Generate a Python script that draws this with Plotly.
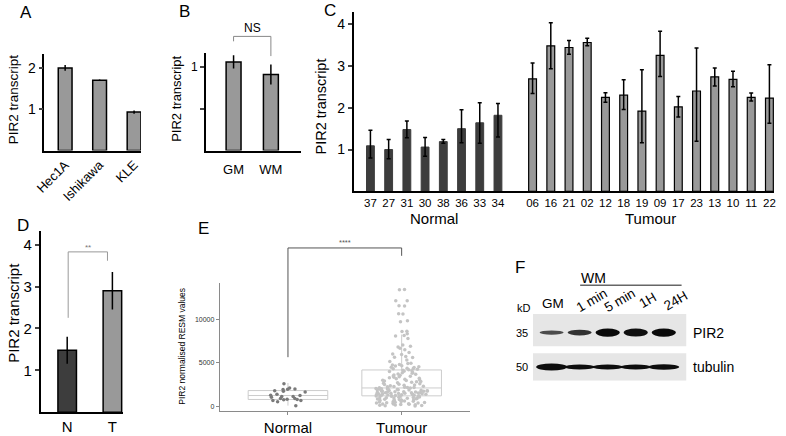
import plotly.graph_objects as go

W, H = 786, 436
FONT = "Liberation Sans, Arial, sans-serif"

# ---------------- data ----------------
a_lines = ["Hec1A", "Ishikawa", "KLE"]
a_values = [2.0, 1.7, 0.93]
a_err = [0.07, 0.02, 0.04]

b_conditions = ["GM", "WM"]
b_values = [1.06, 0.91]
b_err = [0.08, 0.12]

c_normal_ids = ["37", "27", "31", "30", "38", "36", "33", "34"]
c_normal_values = [1.09, 1.00, 1.48, 1.06, 1.19, 1.50, 1.64, 1.82]
c_normal_err_plus = [0.37, 0.24, 0.20, 0.23, 0.05, 0.45, 0.48, 0.28]
c_normal_err_minus = [0.29, 0.22, 0.20, 0.22, 0.04, 0.34, 0.49, 0.52]

c_tumour_ids = ["06", "16", "21", "02", "12", "18", "19", "09", "17", "23", "13", "10", "11", "22"]
c_tumour_values = [2.69, 3.48, 3.44, 3.56, 2.25, 2.30, 1.92, 3.25, 2.02, 2.40, 2.74, 2.68, 2.25, 2.23]
c_tumour_err_plus = [0.38, 0.55, 0.17, 0.10, 0.11, 0.37, 0.99, 0.58, 0.25, 1.03, 0.21, 0.19, 0.10, 0.80]
c_tumour_err_minus = [0.35, 0.55, 0.16, 0.08, 0.12, 0.34, 0.76, 0.50, 0.24, 1.20, 0.22, 0.18, 0.09, 0.60]

d_groups = ["N", "T"]
d_values = [1.48, 2.90]
d_err = [0.32, 0.45]

e_groups = ["Normal", "Tumour"]
e_normal_points = [2570, 2080, 1920, 1960, 1900, 1700, 1770, 1630, 1360, 1240, 1210, 1100,
                   1100, 1020, 870, 870, 790, 760, 650, 640, 720, 500, 50]
e_tumour_points = [
    13390, 13370, 12110, 12090, 11520, 11490, 10610, 10580, 9810, 9690, 8610, 8570, 8310,
    8120, 8040, 7760, 7010, 6880, 6790, 6640, 6460, 6150, 5970, 5940, 5710, 5600, 5570,
    5290, 5130, 4910, 4880, 4790, 4730, 4640, 4610, 4520, 4470, 4430, 4360, 4310, 4280,
    4220, 4180,
    4120, 4070, 3990, 3960, 3870, 3830, 3770, 3690, 3660, 3580, 3540, 3470, 3420, 3380,
    3310, 3250, 3210, 3140, 3070, 3030, 2980, 2930, 2880, 2820, 2790, 2730, 2680, 2610,
    2570, 2520, 2490, 2430, 2390, 2340, 2280, 2260, 2210, 2170, 2140, 2100, 2090, 2120,
    2060, 2030, 1990, 1970, 1940, 1910, 1880, 1860, 1830, 1790, 1770, 1740, 1710, 1690,
    1660, 1640, 1610, 1580, 1560, 1530, 1510, 1480, 1460, 1430, 1410, 1380, 1360, 1340,
    1320, 1290, 1270, 1250, 1240, 1220, 1200, 1190, 1530, 1620, 1870, 1450, 1730, 1350,
    1160, 1140, 1110, 1090, 1060, 1040, 1010, 980, 960, 930, 910, 880, 850, 830, 800,
    780, 750, 720, 700, 670, 640, 610, 590, 560, 530, 500, 470, 450, 420, 390, 360, 340,
    310, 280, 250, 230, 200, 170, 150, 120, 90, 70, 40, 20]
e_box_q1 = [760, 1176]
e_box_median = [1210, 2080]
e_box_q3 = [1780, 4150]
e_box_low = [50, 20]
e_box_high = [2650, 8220]

f_lanes = ["GM", "1 min", "5 min", "1H", "24H"]
f_pir2_intensity = [0.35, 0.6, 1.0, 0.95, 1.0]
f_tubulin_intensity = [1.0, 0.72, 0.72, 0.72, 0.8]
f_markers = ["35", "50"]
f_proteins = ["PIR2", "tubulin"]

# ---------------- layout helpers ----------------
# panel: (left px, right px, top px, bottom px, xrange, yrange)
P = {
    "A": (35, 133, 55, 153, [-0.6, 2.2], [0, 2.333]),
    "B": (199, 296, 54, 153, [-0.74, 1.82], [0, 1.165]),
    "C": (349, 776, 12, 194.5, [-0.92, 22.16], [0, 4.294]),
    "D": (31, 115, 235, 419, [-0.59, 1.24], [0, 4.32]),
    "E": (213, 467, 288, 418, [-0.6, 1.6], [-600, 14100]),
    "F": (531, 687, 319, 387, [-0.667, 4.81], [-0.4, 1.543]),
}
AX = {"A": "", "B": "2", "C": "3", "D": "4", "E": "5", "F": "6"}


def fx(p):
    return p / W


def fy(p):
    return 1 - p / H


def dx(panel, v):
    l, r, t, b, xr, yr = P[panel]
    return l + (v - xr[0]) / (xr[1] - xr[0]) * (r - l)


def dy(panel, v):
    l, r, t, b, xr, yr = P[panel]
    return b - (v - yr[0]) / (yr[1] - yr[0]) * (b - t)


fig = go.Figure()
ann = []
shapes = []


def txt(s, x, y, size, color="black", angle=0, xanchor="center", yanchor="middle"):
    ann.append(dict(text=s, x=fx(x), y=fy(y), xref="paper", yref="paper", showarrow=False,
                    font=dict(size=size, color=color, family=FONT), textangle=angle,
                    xanchor=xanchor, yanchor=yanchor))


def vtitle(s, x, y, size, color="black"):
    # rotated titles render slightly right of their anchor; compensate
    txt(s, x - 7, y, size, color=color, angle=-90)


def seg(x0, y0, x1, y1, color, width=1):
    shapes.append(dict(type="line", xref="paper", yref="paper", x0=fx(x0), y0=fy(y0),
                       x1=fx(x1), y1=fy(y1), line=dict(color=color, width=width)))


GRAY = "#999999"
DARK = "#3d3d3d"

# ---- A ----
fig.add_trace(go.Bar(x=list(range(len(a_lines))), y=a_values, width=0.4, xaxis="x", yaxis="y",
                     marker=dict(color=GRAY, line=dict(color="black", width=1.5)),
                     error_y=dict(type="data", array=a_err, color="black", thickness=1.5, width=0)))
# ---- B ----
fig.add_trace(go.Bar(x=list(range(len(b_conditions))), y=b_values, width=0.4, xaxis="x2", yaxis="y2",
                     marker=dict(color=GRAY, line=dict(color="black", width=1.5)),
                     error_y=dict(type="data", array=b_err, color="black", thickness=1.5, width=0)))
# ---- C ----
c_gap = 8.9
c_nx = list(range(len(c_normal_ids)))
c_tx = [c_gap + i for i in range(len(c_tumour_ids))]
fig.add_trace(go.Bar(x=c_nx, y=c_normal_values, width=0.43, xaxis="x3", yaxis="y3",
                     marker=dict(color=DARK, line=dict(color=DARK, width=1)),
                     error_y=dict(type="data", symmetric=False, array=c_normal_err_plus,
                                  arrayminus=c_normal_err_minus, color="black", thickness=1.5, width=2)))
fig.add_trace(go.Bar(x=c_tx, y=c_tumour_values, width=0.43, xaxis="x3", yaxis="y3",
                     marker=dict(color=GRAY, line=dict(color="black", width=1.2)),
                     error_y=dict(type="data", symmetric=False, array=c_tumour_err_plus,
                                  arrayminus=c_tumour_err_minus, color="black", thickness=1.5, width=2)))
# ---- D ----
fig.add_trace(go.Bar(x=list(range(len(d_groups))), y=d_values, width=0.41, xaxis="x4", yaxis="y4",
                     marker=dict(color=[DARK, GRAY], line=dict(color="black", width=1.5)),
                     error_y=dict(type="data", array=d_err, color="black", thickness=1.5, width=0)))
# ---- E ----
fig.add_trace(go.Box(x=[0, 1], q1=e_box_q1, median=e_box_median, q3=e_box_q3,
                     lowerfence=e_box_low, upperfence=e_box_high, width=0.7, whiskerwidth=0,
                     fillcolor="white", line=dict(color="#cccccc", width=1), boxpoints=False,
                     xaxis="x5", yaxis="y5"))
fig.add_trace(go.Box(x=[0] * len(e_normal_points), y=e_normal_points, width=0.7, boxpoints="all",
                     jitter=0.6, pointpos=0, fillcolor="rgba(0,0,0,0)",
                     line=dict(color="rgba(0,0,0,0)", width=0),
                     marker=dict(color="#7a7a7a", size=3.5), xaxis="x5", yaxis="y5"))
fig.add_trace(go.Box(x=[1] * len(e_tumour_points), y=e_tumour_points, width=0.7, boxpoints="all",
                     jitter=0.65, pointpos=0, fillcolor="rgba(0,0,0,0)",
                     line=dict(color="rgba(0,0,0,0)", width=0),
                     marker=dict(color="#c4c4c4", size=3.5), xaxis="x5", yaxis="y5"))

# ---- axes ----
lay = dict(width=W, height=H, autosize=False, margin=dict(l=0, r=0, t=0, b=0, pad=0),
           paper_bgcolor="white", plot_bgcolor="white", showlegend=False,
           boxmode="overlay", barmode="overlay", font=dict(family=FONT, color="black"))


def set_axes(panel, xkw, ykw):
    l, r, t, b, xr, yr = P[panel]
    s = AX[panel]
    xa = dict(domain=[fx(l), fx(r)], range=xr, anchor="y" + s, showgrid=False, zeroline=False,
              fixedrange=True)
    ya = dict(domain=[fy(b), fy(t)], range=yr, anchor="x" + s, showgrid=False, zeroline=False,
              fixedrange=True)
    xa.update(xkw)
    ya.update(ykw)
    lay["xaxis" + s] = xa
    lay["yaxis" + s] = ya


blk = dict(showline=True, linecolor="black", linewidth=1.5)
set_axes("A",
         dict(**blk, tickvals=list(range(3)), ticktext=a_lines, tickangle=-45, ticks="",
              tickfont=dict(size=13)),
         dict(**blk, tickvals=[1, 2], ticks="outside", ticklen=4, tickwidth=1.5,
              tickfont=dict(size=14)))
set_axes("B",
         dict(**blk, tickvals=[0, 1], ticktext=b_conditions, ticks="", tickfont=dict(size=13),
              ticklabelstandoff=6),
         dict(**blk, tickvals=[0.5, 1], ticktext=["", "1"], ticks="outside", ticklen=4, tickwidth=1.5,
              tickfont=dict(size=12)))
set_axes("C",
         dict(**blk, tickvals=c_nx + c_tx, ticktext=c_normal_ids + c_tumour_ids, ticks="",
              tickfont=dict(size=11.5)),
         dict(**blk, tickvals=[1, 2, 3, 4], ticks="outside", ticklen=4, tickwidth=1.5,
              tickfont=dict(size=14)))
set_axes("D",
         dict(**blk, tickvals=[0, 1], ticktext=d_groups, ticks="", tickfont=dict(size=15)),
         dict(**blk, tickvals=[1, 2, 3, 4], ticks="outside", ticklen=4, tickwidth=1.5,
              tickfont=dict(size=15)))
set_axes("E",
         dict(showline=True, linecolor="#8a8a8a", linewidth=1, tickvals=[0, 1], ticktext=e_groups,
              ticks="outside", ticklen=3, tickcolor="#8a8a8a", tickfont=dict(size=15)),
         dict(showline=True, linecolor="#8a8a8a", linewidth=1, tickvals=[0, 5000, 10000],
              tickformat="d", ticks="outside", ticklen=3, tickcolor="#8a8a8a",
              tickfont=dict(size=7, color="#333")))
set_axes("F",
         dict(visible=False), dict(visible=False))

# ---- titles / labels ----
for letter, (x, y) in {"A": (16, 13), "B": (177, 12), "C": (325, 11), "D": (13, 229),
                       "E": (196, 232), "F": (518, 272)}.items():
    txt(letter, x, y, 17)

vtitle("PIR2 transcript", 10, 101, 13.5)
vtitle("PIR2 transcript", 176, 100, 13)
vtitle("PIR2 transcript", 323, 108, 14.5)
vtitle("PIR2 transcript", 11, 318, 15)
vtitle("PIR2 normalised RESM values", 182, 352, 8.5)

txt("Normal", (dx("C", c_nx[0]) + dx("C", c_nx[-1])) / 2, 222, 15)
txt("Tumour", (dx("C", c_tx[0]) + dx("C", c_tx[-1])) / 2, 222, 15)

# B significance bracket
bx0, bx1 = dx("B", 0), dx("B", 1)
seg(bx0, 37, bx1, 37, "#888888", 1)
seg(bx0, 37, bx0, 42, "#888888", 1)
seg(bx1, 37, bx1, 57, "#888888", 1)
txt("NS", (bx0 + bx1) / 2, 28, 12)

# D significance bracket
ddx0, ddx1 = dx("D", 0) + 1, dx("D", 1) - 5
seg(ddx0, 256, ddx1, 256, "#999999", 1)
seg(ddx0, 256, ddx0, 323, "#999999", 1)
seg(ddx1, 256, ddx1, 265, "#999999", 1)
txt("**", (ddx0 + ddx1) / 2, 252, 8, color="#777")

# E significance bracket
ex0, ex1 = dx("E", 0), dx("E", 1)
seg(ex0, 252, ex1, 252, "#555555", 1)
seg(ex0, 252, ex0, 363, "#555555", 1)
seg(ex1, 252, ex1, 260, "#555555", 1)
txt("****", (ex0 + ex1) / 2, 246, 7.5, color="#555")

# ---- F western blot ----
for y0, y1 in [(0.6, 1.543), (-0.4, 0.4)]:
    shapes.append(dict(type="rect", xref="x6", yref="y6", x0=-0.667, x1=4.81, y0=y0, y1=y1,
                       fillcolor="#e6e6e6", line=dict(width=0), layer="below"))
for i, v in enumerate(f_pir2_intensity):
    h = 0.06 + 0.18 * v
    shade = int(110 - 100 * v)
    col = "rgb(%d,%d,%d)" % (shade, shade, shade)
    shapes.append(dict(type="circle", xref="x6", yref="y6", x0=i - 0.43, x1=i + 0.43,
                       y0=1 - h / 2, y1=1 + h / 2, fillcolor=col, line=dict(width=0)))
for i, v in enumerate(f_tubulin_intensity):
    h = 0.2 * v
    shapes.append(dict(type="circle", xref="x6", yref="y6", x0=i - 0.55, x1=i + 0.55,
                       y0=0 - h / 2, y1=0 + h / 2, fillcolor="#0d0d0d", line=dict(width=0)))

lane_px = [dx("F", i) for i in range(len(f_lanes))]
txt("WM", 593, 283, 14)
seg(579, 290, 682, 290, "#666666", 1.5)
txt("kD", 522, 313, 11)
txt(f_lanes[0], lane_px[0] + 1, 308, 13.5)
for i in range(1, len(f_lanes)):
    txt(f_lanes[i], lane_px[i] + 12, 305, 13.5, angle=-30)
txt(f_markers[0], 520, dy("F", 1), 11)
txt(f_markers[1], 520, dy("F", 0), 11)
txt(f_proteins[0], 692, dy("F", 1), 14, xanchor="left")
txt(f_proteins[1], 692, dy("F", 0), 14, xanchor="left")

lay["annotations"] = ann
lay["shapes"] = shapes
fig.update_layout(**lay)
fig.write_html("out.html", config={"displayModeBar": False},
               post_script="document.body.style.margin='0';document.body.style.overflow='hidden';")
